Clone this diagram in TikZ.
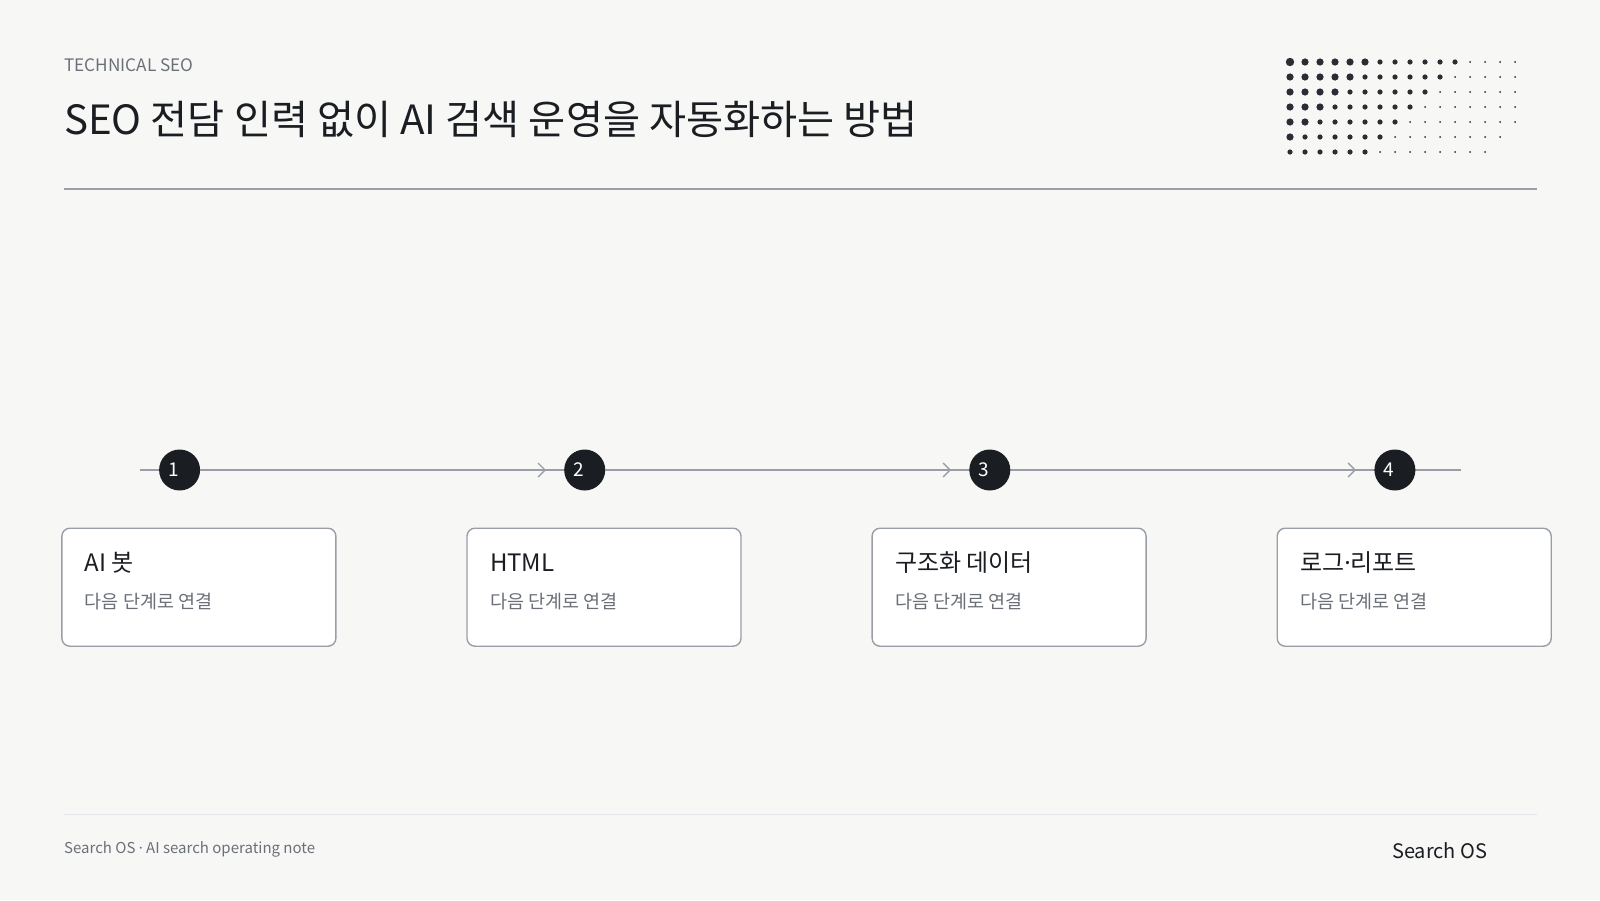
\documentclass[tikz,border=0pt]{standalone}
\usepackage{fontspec}
\setmainfont{Noto Sans CJK KR}
\newfontfamily\latinfont{Noto Sans}
\usetikzlibrary{arrows.meta}

\definecolor{paper}{HTML}{F7F7F6}
\definecolor{ink}{HTML}{1A1D21}
\definecolor{muted}{HTML}{6B7078}
\definecolor{edge}{HTML}{9A9EA6}
\definecolor{faint}{HTML}{E2E5E8}
\definecolor{dotc}{HTML}{2A2D33}

\newcommand{\mdot}{{\latinfont ·}}

\tikzset{
  stepcard/.style={draw=edge, line width=1.4pt, fill=white, rounded corners=8pt,
    minimum width=274pt, minimum height=118pt, inner sep=0pt, anchor=north west},
  badge/.style={circle, fill=ink, minimum size=41pt, inner sep=0pt, text=white,
    font=\fontsize{19}{19}\selectfont},
  flow/.style={draw=edge, line width=1.4pt, -{Straight Barb[length=7pt,width=14pt]},
    shorten >=18pt},
  label/.style={inner sep=0pt, anchor=base west},
}

\begin{document}
\begin{tikzpicture}[x=1pt,y=-1pt]
    \fill[paper] (0,0) rectangle (1600,900);
    \useasboundingbox (0,0) rectangle (1600,900);

    % header
    \node[label, text=muted, font=\fontsize{17.2}{17.2}\selectfont] (kicker) at (64,71) {TECHNICAL SEO};
    \node[label, text=ink, font=\fontsize{40.3}{40.3}\selectfont] (title) at (64,134)
      {SEO 전담 인력 없이 AI 검색 운영을 자동화하는 방법};
    \coordinate (hl) at (64,189);
    \coordinate (hr) at (1537,189);
    \draw[edge, line width=1.6pt] (hl) -- (hr);

    % dot grid
    \foreach \r in {0,...,6}
      \foreach \c in {0,...,15} {
        \pgfmathtruncatemacro\s{\r+\c}
        \pgfmathsetmacro\rad{\s<1 ? 4.2 : (\s<6 ? 3.6 : (\s<12 ? 2.6 : 1.0))}
        \ifnum\s<20
          \fill[dotc] (1290+15*\c,62+15*\r) circle[radius=\rad pt];
        \fi
      }

    % timeline
    \coordinate (tl) at (140,470);
    \coordinate (tr) at (1461,470);
    \draw[edge, line width=1.6pt] (tl) -- (tr);
    \foreach \i/\name in {1/AI 봇, 2/HTML, 3/구조화 데이터, 4/로그\mdot 리포트} {
      \node[badge] (n\i) at (179.6+405.1*\i-405.1,470) {\i\hspace*{12pt}};
      \node[stepcard] (b\i) at (61.2+405.1*\i-405.1,527.5) {};
      \node[label, text=ink, font=\fontsize{24}{24}\selectfont]
        (t\i) at ([shift={(23.5pt,-44pt)}]b\i.north west) {\name};
      \node[label, text=muted, font=\fontsize{18.5}{18.5}\selectfont]
        (s\i) at ([shift={(23.5pt,-81pt)}]b\i.north west) {다음 단계로 연결};
    }
    \draw[flow] (n1) -- (n2);
    \draw[flow] (n2) -- (n3);
    \draw[flow] (n3) -- (n4);

    % footer
    \coordinate (fl) at (64,814.5);
    \coordinate (fr) at (1537,814.5);
    \draw[faint, line width=1.6pt] (fl) -- (fr);
    \node[label, text=muted, font=\fontsize{15}{15}\selectfont] (note) at (64,853)
      {Search OS \mdot{} AI search operating note};
    \node[label, text=ink, font=\fontsize{20}{20}\selectfont] (brand) at (1392,858) {Search OS};
\end{tikzpicture}
\end{document}
